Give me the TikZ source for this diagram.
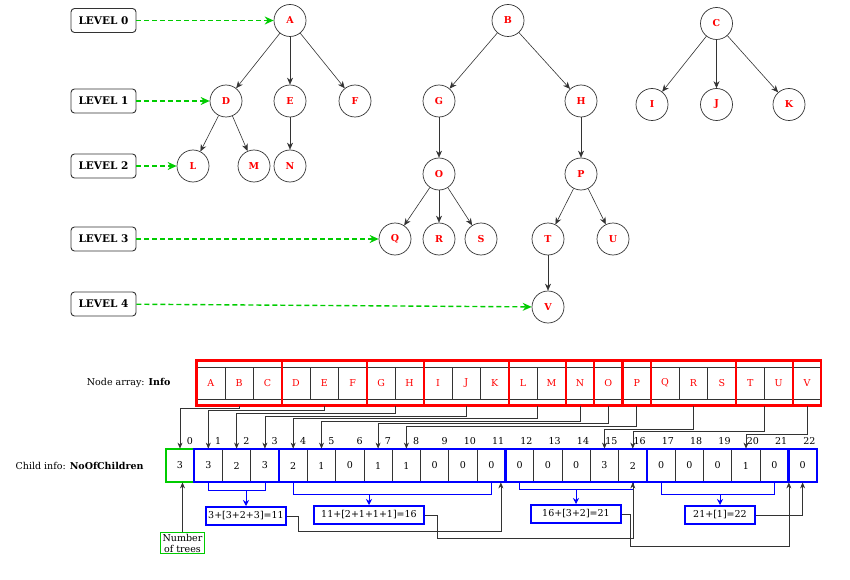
\documentclass[tikz,border=0pt]{standalone}
\usepackage{fontspec}
\setmainfont{DejaVu Serif}
\usetikzlibrary{arrows.meta}
\definecolor{redc}{HTML}{FF0000}
\definecolor{bluec}{HTML}{0000FF}
\definecolor{greenc}{HTML}{00CC00}
\definecolor{linec}{HTML}{333333}

\begin{document}
\begin{tikzpicture}[x=1pt,y=-1pt,font=\fontsize{9.5}{11}\selectfont,
 tnode/.style={circle,draw=linec,line width=.7pt,minimum size=32,inner sep=0,text=redc,font=\fontsize{9.5}{11}\selectfont\bfseries},
 lvlbox/.style={draw=linec,line width=.9pt,rounded corners=3.5pt,minimum width=65,minimum height=24,inner sep=0,font=\fontsize{10.5}{12}\selectfont\bfseries},
 edge/.style={linec,line width=.6pt,-{Stealth[length=7pt,width=6pt]}},
 lvlarrow/.style={greenc,line width=1.4pt,dash pattern=on 5pt off 3pt,-{Stealth[length=9pt,width=8pt]}},
 cell/.style={draw=linec,line width=.8pt,minimum width=28.4,minimum height=32,inner sep=0},
 igrp/.style={draw=redc,line width=2.2pt,minimum height=45,inner sep=0,outer sep=0},
 cgrp/.style={draw=bluec,line width=2.2pt,minimum height=33,inner sep=0,outer sep=0},
 link/.style={linec,line width=.6pt,-{Stealth[length=6pt,width=5pt]}},
 brak/.style={bluec,line width=.6pt},
 sumbox/.style={draw=bluec,line width=2pt,minimum height=18,inner sep=0}]
\useasboundingbox (0,0) rectangle (850,580);

% levels
\foreach \n/\y in {0/20.5,1/101,2/166,3/239,4/304}
  \node[lvlbox] (l\n) at (103.5,\y) {LEVEL \n};

% the three trees
\foreach \n/\x/\y in {A/290/20.5,D/226/101,E/290/101,F/355/101,L/193/166,M/254/166,N/290/166,
  B/508/20.5,G/439/101,H/581/101,O/439/174,P/581/174,Q/395/239,R/439/239,S/481/239,T/548/239,U/613/239,V/548/307,
  C/716.5/23.5,I/652/104.5,J/716.5/104.5,K/789/104.5}
  \node[tnode] (\n) at (\x,\y) {\n};
\foreach \a/\b in {A/D,A/E,A/F,D/L,D/M,E/N,B/G,B/H,G/O,H/P,O/Q,O/R,O/S,P/T,P/U,T/V,C/I,C/J,C/K}
  \draw[edge] (\a) -- (\b);
\foreach \n/\t in {0/A,1/D,2/L,3/Q,4/V}
  \draw[lvlarrow] (l\n) -- (\t);

% node array
\node[anchor=east] (infolbl) at (174,383) {Node array: \textbf{Info}};
\foreach \l [count=\k from 0] in {A,B,C,D,E,F,G,H,I,J,K,L,M,N,O,P,Q,R,S,T,U,V}
  \node[cell,text=redc] (i\l) at ({210.7+28.4*\k},383) {\l};
\foreach \s/\n [count=\g] in {0/3,3/3,6/2,8/3,11/2,13/1,14/1,15/1,16/3,19/2,21/1}
  \node[igrp,minimum width=\n*28.4] (g\g) at ({196.5+28.4*(\s+\n/2)},383) {};

% child array
\node[anchor=east] (childlbl) at (147,465.5) {Child info: \textbf{NoOfChildren}};
\foreach \v [count=\i from 0] in {3,3,2,3,2,1,0,1,1,0,0,0,0,0,0,3,2,0,0,0,1,0,0}{
  \node[cell,minimum width=28.3,minimum height=33] (c\i) at ({180+28.3*\i},465.5) {\v};
  \node[anchor=base east,inner sep=0] (n\i) at ([xshift=-1.5pt,yshift=4.5pt]c\i.north east) {\i};
}
\node[cgrp,draw=greenc,minimum width=28.3] (h0) at (c0) {};
\foreach \s/\n [count=\g] in {1/3,4/8,12/5,17/5,22/1}
  \node[cgrp,minimum width=\n*28.3] (h\g) at ({165.85+28.3*(\s+\n/2)},465.5) {};

% info groups -> child cells
\foreach \g/\c in {1/0,2/1,3/2,4/3,5/4,6/5,7/7,8/8,9/15,10/16,11/20}
  \draw[link] (g\g.south) -- ++(0,{2.6*\g-0.1}) -| (c\c.north);

% sums
\node[draw=greenc,line width=1.2pt,align=center,inner xsep=2pt,inner ysep=1pt,font=\fontsize{9.5}{11}\selectfont] (trees) at (182.5,543) {Number\\of trees};
\draw[link] (trees.north) -- (trees.north |- c0.south);
\node[sumbox,minimum width=80] (sa) at (246,516) {3+[3+2+3]=11};
\node[sumbox,minimum width=110] (sb) at (369,515) {11+[2+1+1+1]=16};
\node[sumbox,minimum width=90] (sc) at (576,514) {16+[3+2]=21};
\node[sumbox,minimum width=70] (sd) at (720,515) {21+[1]=22};
\foreach \a/\b/\d/\t in {c1/c3/8/sa,c4/c11/12/sb,c12/c16/7/sc,c17/c21/12/sd}{
  \draw[brak] (\a.south) -- ++(0,\d) coordinate (b\t) -| (\b.south);
  \draw[brak,-{Stealth[length=6pt,width=6pt]}] (\t.north |- b\t) -- (\t.north);
}
\draw[link] (sa.east) -- ++(11,0) -- ++(0,15) -| ([xshift=-5pt]c11.south east);
\draw[link] (sb.east) -- ++(12,0) -- ++(0,23) -| (c16.south);
\draw[link] (sc.east) -- ++(8,0) -- ++(0,32) -| (c21.south east);
\draw[link] (sd.east) -| (c22.south);
\end{tikzpicture}
\end{document}
